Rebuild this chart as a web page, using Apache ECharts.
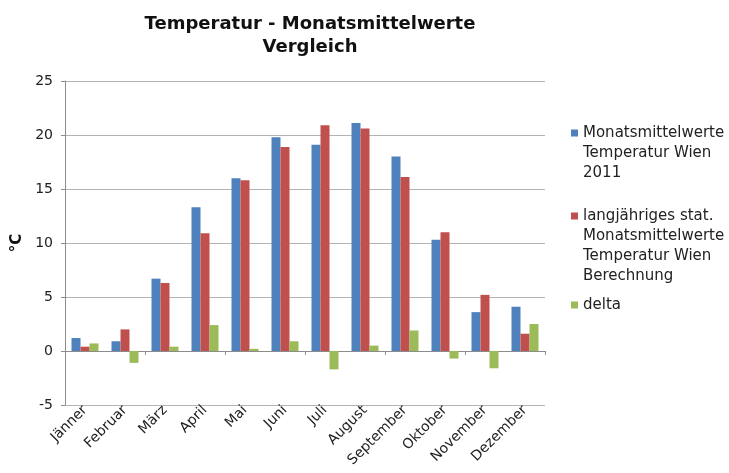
<!DOCTYPE html>
<html>
<head>
<meta charset="utf-8">
<script src="https://cdn.jsdelivr.net/npm/echarts@6/dist/echarts.min.js"></script>
<style>
html, body { margin: 0; padding: 0; background: #fff; }
#chart { width: 729px; height: 473px; }
</style>
</head>
<body>
<div id="chart"></div>
<script>
// Monate
var months = ['Jänner', 'Februar', 'März', 'April', 'Mai', 'Juni', 'Juli', 'August', 'September', 'Oktober', 'November', 'Dezember'];
// Monatsmittelwerte 2011
var wien2011 = [1.2, 0.9, 6.7, 13.3, 16.0, 19.8, 19.1, 21.1, 18.0, 10.3, 3.6, 4.1];
// langjährige Mittelwerte
var langjaehrig = [0.4, 2.0, 6.3, 10.9, 15.8, 18.9, 20.9, 20.6, 16.1, 11.0, 5.2, 1.6];
// Differenz
var delta = [0.7, -1.1, 0.4, 2.4, 0.2, 0.9, -1.7, 0.5, 1.9, -0.7, -1.6, 2.5];

var names = [
	'Monatsmittelwerte\nTemperatur Wien\n2011',
	'langjähriges stat.\nMonatsmittelwerte\nTemperatur Wien\nBerechnung',
	'delta'
];
var colors = ['#4f81bd', '#c0504d', '#9bbb59'];
var font = 'DejaVu Sans, Verdana, sans-serif';
var lineH = 20;

var chart = echarts.init(document.getElementById('chart'));

// eine Legende pro Eintrag; Symbol als hoher Pfad, Quadrat auf Höhe der ersten Zeile
var firstLine = [133, 216, 305];
var legends = names.map(function (n, i) {
	var lines = n.split('\n').length;
	var h = lines * lineH;
	var y0 = lineH / 2 - 3.5;
	var icon = 'path://M0,0L0.01,0M0,' + y0 + 'h7v7h-7zM0,' + h + 'L0.01,' + h;
	return {
		left: 571,
		top: firstLine[i] - lineH / 2,
		padding: 0,
		orient: 'vertical',
		itemWidth: 7,
		itemHeight: h,
		icon: icon,
		selectedMode: false,
		data: [n],
		textStyle: { fontFamily: font, fontSize: 15, color: '#222', lineHeight: lineH }
	};
});

chart.setOption({
	animation: false,
	backgroundColor: '#fff',
	title: {
		text: 'Temperatur - Monatsmittelwerte\nVergleich',
		left: 305,
		textAlign: 'center',
		top: 8,
		textStyle: { fontFamily: font, fontSize: 18, fontWeight: 'bold', color: '#111', lineHeight: 23 }
	},
	legend: legends,
	grid: { left: 65, right: 184, top: 81, bottom: 68, containLabel: false },
	xAxis: [{
		type: 'category',
		data: months,
		axisLine: { show: false, onZero: false },
		axisTick: { show: false },
		axisLabel: { rotate: 45, interval: 0, margin: 3, fontSize: 14, fontFamily: font, color: '#222' }
	}, {
		type: 'category',
		data: months,
		position: 'bottom',
		axisLine: { show: true, onZero: true, lineStyle: { color: '#8c8c8c' } },
		axisTick: { show: true, length: 4, lineStyle: { color: '#8c8c8c' } },
		axisLabel: { show: false }
	}],
	yAxis: {
		type: 'value',
		min: -5,
		max: 25,
		interval: 5,
		name: '°C',
		nameLocation: 'middle',
		nameRotate: 90,
		nameGap: 40,
		nameTextStyle: { fontFamily: font, fontSize: 15, fontWeight: 'bold', color: '#111' },
		axisLine: { show: true, lineStyle: { color: '#8c8c8c' } },
		axisTick: { show: true, length: 4, lineStyle: { color: '#8c8c8c' } },
		axisLabel: { margin: 12, fontFamily: font, fontSize: 14, color: '#222' },
		splitLine: { lineStyle: { color: '#b3b3b3' } }
	},
	series: names.map(function (n, i) {
		return {
			name: n,
			type: 'bar',
			xAxisIndex: 0,
			data: [wien2011, langjaehrig, delta][i],
			barWidth: 9,
			barGap: '0%',
			itemStyle: { color: colors[i] }
		};
	})
});
</script>
</body>
</html>
